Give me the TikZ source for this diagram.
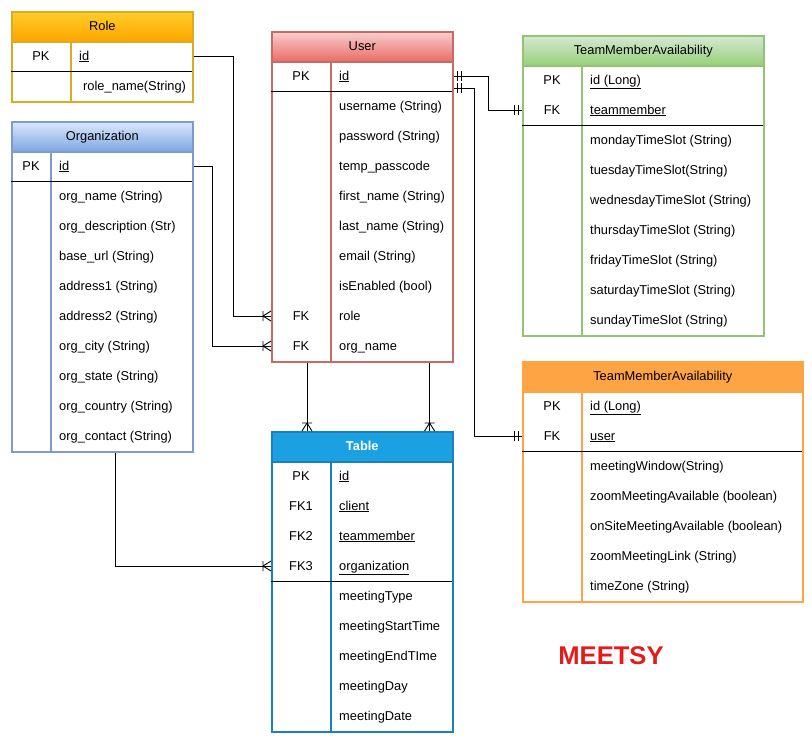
\documentclass[tikz,border=0pt]{standalone}
\usepackage{fontspec}
\setmainfont{Liberation Sans}
\usetikzlibrary{decorations.markings,calc}
\definecolor{roleT}{HTML}{FFCD28}\definecolor{roleB}{HTML}{FFA500}\definecolor{roleS}{HTML}{DDAA22}
\definecolor{orgT}{HTML}{DAE8FC}\definecolor{orgB}{HTML}{7EA6E0}\definecolor{orgS}{HTML}{7C9CCC}
\definecolor{userT}{HTML}{F8CECC}\definecolor{userB}{HTML}{EA6B66}\definecolor{userS}{HTML}{C86A66}
\definecolor{grT}{HTML}{D5E8D4}\definecolor{grB}{HTML}{97D077}\definecolor{grS}{HTML}{92C473}
\definecolor{orF}{HTML}{FFA444}\definecolor{orS}{HTML}{FFA444}
\definecolor{tbF}{HTML}{1BA1E2}\definecolor{tbS}{HTML}{1A80C0}
\definecolor{meetred}{HTML}{E31B1B}
\begin{document}
\begin{tikzpicture}[x=1pt,y=-1pt,font=\fontsize{12.85}{15}\selectfont,
  ent/.style={draw,line width=1.6pt,fill=white,inner sep=0,anchor=north west},
  hdr/.style={draw,line width=1.6pt,inner sep=0,anchor=north west,minimum height=30,text height=10pt,text depth=2pt},
  key/.style={inner sep=0,minimum height=30,anchor=center,text height=10pt,text depth=2pt},
  att/.style={anchor=west,inner xsep=8pt,inner ysep=0,minimum height=30,text height=10pt,text depth=2pt},
  conn/.style={line width=1pt},
  sepl/.style={line width=1pt,black},
  crowend/.style={postaction={decorate,decoration={markings,mark=at position 1 with {\draw[line width=0.9pt] (-8pt,-5pt)--(-8pt,5pt) (-8pt,0pt)--(0pt,5pt) (-8pt,0pt)--(0pt,-5pt);}}}},
  oneend/.style={postaction={decorate,decoration={markings,mark=at position 1 with {\draw[line width=0.9pt] (-4pt,-5pt)--(-4pt,5pt) (-8pt,-5pt)--(-8pt,5pt);}}}},
  onestart/.style={postaction={decorate,decoration={markings,mark=at position 0 with {\draw[line width=0.9pt] (4pt,-5pt)--(4pt,5pt) (8pt,-5pt)--(8pt,5pt);}}}}
]
\useasboundingbox (0,0) rectangle (812,742);

% ---------- Role ----------
\node[ent,draw=roleS,minimum width=181,minimum height=90] (role) at (11,11) {};
\draw[roleS,line width=1.6pt] (71,41) -- (71,101);
\draw[sepl] (11,71) -- (192,71);
\node[hdr,draw=roleS,top color=roleT,bottom color=roleB,minimum width=181] (roleH) at (11,11) {Role};
\node[key] (rolePK) at (41,56) {PK};
\node[att] (roleId) at (71,56) {\underline{id}};
\node[att,inner xsep=12pt] (roleName) at (71,86) {role\_name(String)};

% ---------- Organization ----------
\node[ent,draw=orgS,minimum width=181,minimum height=330] (org) at (11,121) {};
\draw[orgS,line width=1.6pt] (51,151) -- (51,451);
\draw[sepl] (11,181) -- (192,181);
\node[hdr,draw=orgS,top color=orgT,bottom color=orgB,minimum width=181] (orgH) at (11,121) {Organization};
\node[key] (orgPK) at (31,166) {PK};
\node[att] (orgId) at (51,166) {\underline{id}};
\foreach \t [count=\i] in {org\_name (String),org\_description (Str),base\_url (String),address1 (String),address2 (String),org\_city (String),org\_state (String),org\_country (String),org\_contact (String)}
  \node[att] (org\i) at (51,{166+30*\i}) {\t};

% ---------- User ----------
\node[ent,draw=userS,minimum width=181,minimum height=330] (user) at (271,31) {};
\draw[userS,line width=1.6pt] (331,61) -- (331,361);
\draw[sepl] (271,91) -- (452,91);
\node[hdr,draw=userS,top color=userT,bottom color=userB,minimum width=181] (userH) at (271,31) {User};
\node[key] (userPK) at (301,76) {PK};
\node[att] (userId) at (331,76) {\underline{id}};
\foreach \t [count=\i] in {username (String),password (String),temp\_passcode,first\_name (String),last\_name (String),email (String),isEnabled (bool),role,org\_name}
  \node[att] (user\i) at (331,{76+30*\i}) {\t};
\node[key] (userRoleK) at (301,316) {FK};
\node[key] (userOrgK) at (301,346) {FK};

% ---------- TeamMemberAvailability (green) ----------
\node[ent,draw=grS,minimum width=241,minimum height=300] (green) at (522,35) {};
\draw[grS,line width=1.6pt] (582,65) -- (582,335);
\draw[sepl] (522,125) -- (763,125);
\node[hdr,draw=grS,top color=grT,bottom color=grB,minimum width=241] (greenH) at (522,35) {TeamMemberAvailability};
\node[key] (gPK) at (552,80) {PK};
\node[key] (gFK) at (552,110) {FK};
\node[att] (gId) at (582,80) {\underline{id (Long)}};
\node[att] (gTm) at (582,110) {\underline{teammember}};
\foreach \t [count=\i] in {mondayTimeSlot (String),tuesdayTimeSlot(String),wednesdayTimeSlot (String),thursdayTimeSlot (String),fridayTimeSlot (String),saturdayTimeSlot (String),sundayTimeSlot (String)}
  \node[att] (g\i) at (582,{110+30*\i}) {\t};

% ---------- TeamMemberAvailability (orange) ----------
\node[ent,draw=orS,minimum width=280,minimum height=240] (orange) at (522,361) {};
\draw[orS,line width=1.6pt] (582,391) -- (582,601);
\draw[sepl] (522,451) -- (802,451);
\node[hdr,draw=orS,fill=orF,minimum width=280] (orangeH) at (522,361) {TeamMemberAvailability};
\node[key] (oPK) at (552,406) {PK};
\node[key] (oFK) at (552,436) {FK};
\node[att] (oId) at (582,406) {\underline{id (Long)}};
\node[att] (oUser) at (582,436) {\underline{user}};
\foreach \t [count=\i] in {meetingWindow(String),zoomMeetingAvailable (boolean),onSiteMeetingAvailable (boolean),zoomMeetingLink (String),timeZone (String)}
  \node[att] (o\i) at (582,{436+30*\i}) {\t};

% ---------- Table ----------
\node[ent,draw=tbS,minimum width=181,minimum height=300] (tbl) at (271,431) {};
\draw[tbS,line width=1.6pt] (331,461) -- (331,731);
\draw[sepl] (271,581) -- (452,581);
\node[hdr,draw=tbS,fill=tbF,text=white,font=\fontsize{12.85}{15}\selectfont\bfseries,minimum width=181] (tblH) at (271,431) {Table};
\node[key] (tPK) at (301,476) {PK};
\node[key] (tFK1) at (301,506) {FK1};
\node[key] (tFK2) at (301,536) {FK2};
\node[key] (tFK3) at (301,566) {FK3};
\node[att] (tId) at (331,476) {\underline{id}};
\node[att] (tClient) at (331,506) {\underline{client}};
\node[att] (tTm) at (331,536) {\underline{teammember}};
\node[att] (tOrg) at (331,566) {\underline{organization}};
\foreach \t [count=\i] in {meetingType,meetingStartTime,meetingEndTIme,meetingDay,meetingDate}
  \node[att] (t\i) at (331,{566+30*\i}) {\t};

% ---------- Title ----------
\node[font=\fontsize{25.6}{30}\selectfont\bfseries,text=meetred] (title) at (611,656) {MEETSY};

% ---------- Connectors ----------
\draw[conn,crowend] (roleId -| role.east) -- ++(40,0) |- (userRoleK -| user.west);
\draw[conn,crowend] (orgId -| org.east) -- ++(19,0) |- (userOrgK -| user.west);
\draw[conn,onestart,oneend] (userId -| user.east) -- ++(35,0) |- (gFK -| green.west);
\draw[conn,onestart,oneend] ($(userId.south -| user.east)+(0,-3)$) -- ++(21,0) |- (oFK -| orange.west);
\draw[conn,crowend] ([xshift=36pt]user.south west) -- ([xshift=36pt]tbl.north west);
\draw[conn,crowend] ([xshift=-24pt]user.south east) -- ([xshift=-24pt]tbl.north east);
\draw[conn,crowend] ([xshift=104pt]org.south west) |- (tFK3 -| tbl.west);
\end{tikzpicture}
\end{document}
